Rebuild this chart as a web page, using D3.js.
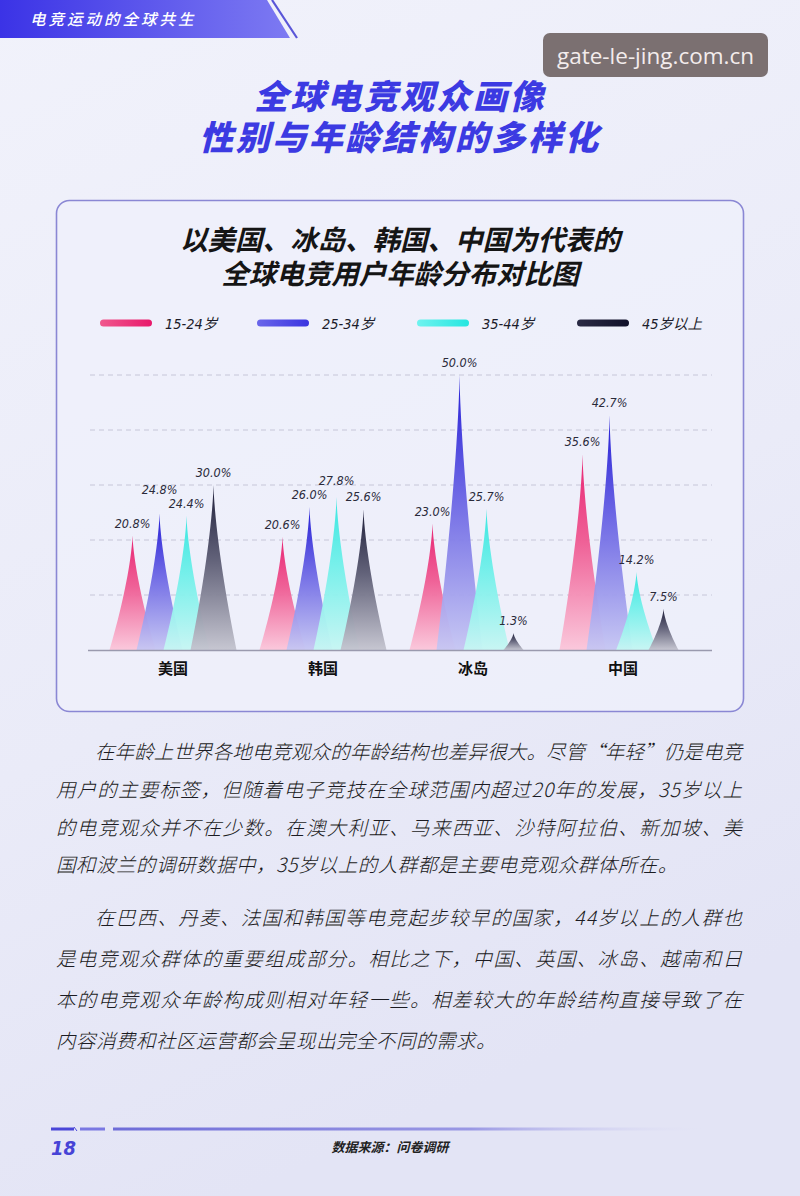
<!DOCTYPE html>
<html><head><meta charset="utf-8">
<script src="https://cdn.jsdelivr.net/npm/d3@7/dist/d3.min.js"></script>
<style>
html,body{margin:0;padding:0;background:#eceef9;}
svg{display:block;}
</style></head>
<body>
<svg id="c" width="800" height="1196"></svg>
<script>
// ---- data ----
const categories = ["美国", "韩国", "冰岛", "中国"];
const seriesNames = ["15-24岁", "25-34岁", "35-44岁", "45岁以上"];
const age15_24 = [20.8, 20.6, 23.0, 35.6];
const age25_34 = [24.8, 26.0, 50.0, 42.7];
const age35_44 = [24.4, 27.8, 25.7, 14.2];
const age45plus = [30.0, 25.6, 1.3, 7.5];
const yTicks = [10, 20, 30, 40, 50];
const seriesValues = [age15_24, age25_34, age35_44, age45plus];

const pageTag = "电竞运动的全球共生";
const titleLines = ["全球电竞观众画像", "性别与年龄结构的多样化"];
const chartTitleLines = ["以美国、冰岛、韩国、中国为代表的", "全球电竞用户年龄分布对比图"];
const para1 = [
  "在年龄上世界各地电竞观众的年龄结构也差异很大。尽管“年轻”仍是电竞",
  "用户的主要标签，但随着电子竞技在全球范围内超过20年的发展，35岁以上",
  "的电竞观众并不在少数。在澳大利亚、马来西亚、沙特阿拉伯、新加坡、美",
  "国和波兰的调研数据中，35岁以上的人群都是主要电竞观众群体所在。"
];
const para2 = [
  "在巴西、丹麦、法国和韩国等电竞起步较早的国家，44岁以上的人群也",
  "是电竞观众群体的重要组成部分。相比之下，中国、英国、冰岛、越南和日",
  "本的电竞观众年龄构成则相对年轻一些。相差较大的年龄结构直接导致了在",
  "内容消费和社区运营都会呈现出完全不同的需求。"
];
const pageNumber = "18";
const sourceText = "数据来源：问卷调研";
const watermark = "gate-le-jing.com.cn";

// ---- styles ----
const topColors = ["#e8196b", "#1a12d4", "#2fe6df", "#141430"];
const midColors = ["#ef5a92", "#6a64e4", "#72f0ea", "#5a5a72"];
const botColors = ["#fbc6da", "#c6c6f3", "#c6f6f3", "#c4c4cf"];
const legTop = ["#f0588d", "#6a66ea", "#6ff3ef", "#2a2a44"];
const legBot = ["#e8196b", "#3a34e0", "#25e6e0", "#10102a"];

const CJK = "'Noto Sans CJK SC','Noto Sans',sans-serif";
const NUM = "'DejaVu Sans Condensed','DejaVu Sans',sans-serif";
const svg = d3.select("#c");
const defs = svg.append("defs");

// background
const bg = defs.append("linearGradient").attr("id","bg").attr("x1",0).attr("y1",0).attr("x2",0.3).attr("y2",1);
bg.append("stop").attr("offset","0%").attr("stop-color","#f1f2fb");
bg.append("stop").attr("offset","60%").attr("stop-color","#eaebf8");
bg.append("stop").attr("offset","100%").attr("stop-color","#e3e4f5");
svg.append("rect").attr("width",800).attr("height",1196).attr("fill","url(#bg)");

// top banner
const bn = defs.append("linearGradient").attr("id","bn").attr("x1",0).attr("x2",1).attr("y1",0).attr("y2",0);
bn.append("stop").attr("offset","0%").attr("stop-color","#3b33e6");
bn.append("stop").attr("offset","100%").attr("stop-color","#7d7af2");
svg.append("path").attr("d","M0,0 L267,0 L290,38 L0,38 Z").attr("fill","url(#bn)");
svg.append("path").attr("d","M272,0 L297,38").attr("stroke","#5a56d8").attr("stroke-width",2.2);
svg.append("text").attr("x",30).attr("y",25).text(pageTag)
  .attr("font-family",CJK).attr("font-size",15.5).attr("font-weight",500).attr("font-style","italic")
  .attr("letter-spacing",3).attr("fill","#ffffff");

// watermark
svg.append("rect").attr("x",543).attr("y",33).attr("width",225).attr("height",44).attr("rx",7)
  .attr("fill","#6e6262").attr("opacity",0.9);
svg.append("text").attr("x",655.5).attr("y",64).attr("text-anchor","middle").text(watermark)
  .attr("font-family","'Open Sans','DejaVu Sans',sans-serif").attr("font-size",22.5).attr("fill","#f3ecec");

// main title
svg.selectAll("text.title").data(titleLines).enter().append("text").attr("class","title")
  .attr("x",400).attr("y",(d,i)=>109+i*41).attr("text-anchor","middle").text(d=>d)
  .attr("font-family",CJK).attr("font-size",34).attr("font-weight",900).attr("font-style","italic")
  .attr("fill","#3c3ae2").attr("letter-spacing",2.5);

// card
svg.append("rect").attr("x",56.5).attr("y",200.5).attr("width",687).attr("height",511).attr("rx",13)
  .attr("fill","#eff0fb").attr("fill-opacity",0.75).attr("stroke","#8a87d4").attr("stroke-width",1.6);
svg.selectAll("text.ctitle").data(chartTitleLines).enter().append("text").attr("class","ctitle")
  .attr("x",400).attr("y",(d,i)=>250+i*34).attr("text-anchor","middle").text(d=>d)
  .attr("font-family",CJK).attr("font-size",27.5).attr("font-weight",700).attr("font-style","italic")
  .attr("fill","#151515");

// legend
const legX = [100, 257, 417, 577];
seriesNames.forEach((s,i)=>{
  const g = defs.append("linearGradient").attr("id","lg"+i).attr("x1",0).attr("x2",1).attr("y1",0).attr("y2",0);
  g.append("stop").attr("offset","0%").attr("stop-color",legTop[i]);
  g.append("stop").attr("offset","100%").attr("stop-color",legBot[i]);
});
const leg = svg.append("g").selectAll("g").data(seriesNames).enter().append("g")
  .attr("transform",(d,i)=>`translate(${legX[i]},323)`);
leg.append("rect").attr("x",0).attr("y",-3.5).attr("width",52).attr("height",7).attr("rx",3.5)
  .attr("fill",(d,i)=>`url(#lg${i})`);
leg.append("text").attr("x",65).attr("y",5.5).text(d=>d)
  .attr("font-family","'DejaVu Sans Condensed','Noto Sans CJK SC',sans-serif").attr("font-size",14.5)
  .attr("font-style","italic").attr("fill","#1c1c2a");

// scales
const y = d3.scaleLinear().domain([0,50]).range([650,375]);
const x = d3.scaleBand().domain(categories).range([98,698]).padding(0);
const xs = d3.scalePoint().domain(seriesNames).range([-40.5,40.5]);

// grid
svg.append("g").selectAll("line").data(yTicks).enter().append("line")
  .attr("x1",90).attr("x2",712).attr("y1",d=>y(d)).attr("y2",d=>y(d))
  .attr("stroke","#c6c6d8").attr("stroke-width",1).attr("stroke-dasharray","5,4");

// spike gradients
seriesNames.forEach((s,i)=>{
  const g = defs.append("linearGradient").attr("id","sg"+i).attr("x1",0).attr("x2",0).attr("y1",0).attr("y2",1);
  g.append("stop").attr("offset","0%").attr("stop-color",topColors[i]);
  g.append("stop").attr("offset","45%").attr("stop-color",midColors[i]);
  g.append("stop").attr("offset","100%").attr("stop-color",botColors[i]);
});

const minH = 17;
function spikePath(cx, top, base, v){
  const h = Math.max(base - top, minH);
  const hw = Math.min(23, 9 + 0.8*v);
  const steps = d3.range(0, 1.0001, 0.05);
  const left = steps.map(f => [cx - hw*Math.pow(1-f, 1.45), base - f*h]);
  const right = steps.slice().reverse().map(f => [cx + hw*Math.pow(1-f, 1.45), base - f*h]);
  return d3.line()(left.concat(right)) + "Z";
}
const spikes = [];
seriesValues.forEach((vals,si)=>{
  vals.forEach((v,ci)=>spikes.push({s:si, ci:ci, c:categories[ci], v:v}));
});
const cxOf = d => x(d.c)+x.bandwidth()/2+xs(seriesNames[d.s]);
svg.append("g").selectAll("path").data(spikes).enter().append("path")
  .attr("d",d=>spikePath(cxOf(d), y(d.v), y(0), d.v))
  .attr("fill",d=>`url(#sg${d.s})`).attr("fill-opacity",0.95);

// value label positions: above the tip, nudged apart when neighbours collide
spikes.forEach(d=>{ d.ly = Math.min(y(d.v), y(0)-minH) - 8; });
categories.forEach(c=>{
  const grp = spikes.filter(d=>d.c===c).sort((a,b)=>a.s-b.s);
  for(let k=1;k<grp.length;k++){
    const a = grp[k-1], b = grp[k];
    if(Math.abs(a.ly-b.ly) < 14){
      if(a.v >= b.v) a.ly = b.ly - 14; else b.ly = a.ly - 14;
    }
  }
});
svg.append("g").selectAll("text").data(spikes).enter().append("text")
  .attr("x",d=>cxOf(d)).attr("y",d=>d.ly).attr("text-anchor","middle")
  .text(d=>d.v.toFixed(1)+"%")
  .attr("font-family",NUM).attr("font-size",12.5)
  .attr("font-style","italic").attr("fill","#2a2a3a");

// baseline
svg.append("line").attr("x1",88).attr("x2",712).attr("y1",y(0)+0.5).attr("y2",y(0)+0.5)
  .attr("stroke","#9a9aae").attr("stroke-width",1.5);

// x axis labels
svg.append("g").selectAll("text").data(categories).enter().append("text")
  .attr("x",d=>x(d)+x.bandwidth()/2).attr("y",674).attr("text-anchor","middle").text(d=>d)
  .attr("font-family",CJK).attr("font-size",15).attr("font-weight",700).attr("fill","#111");

// paragraphs
function para(lines, y0, gap){
  lines.forEach((t,i)=>{
    const full = i < lines.length-1;
    const x0 = i===0 ? 95 : 56;
    const el = svg.append("text").attr("x",x0).attr("y",y0+i*gap).text(t)
      .attr("font-family",CJK).attr("font-size",19.5).attr("font-weight",300)
      .attr("font-style","italic").attr("fill","#1b1b22");
    if(full){ el.attr("textLength",742-x0).attr("lengthAdjust","spacing"); }
    else { el.attr("letter-spacing",0.5); }
  });
}
para(para1, 759, 37.8);
para(para2, 925, 41);

// footer
const fg = defs.append("linearGradient").attr("id","fg").attr("x1",0).attr("x2",1).attr("y1",0).attr("y2",0);
fg.append("stop").attr("offset","0%").attr("stop-color","#6e6cd8");
fg.append("stop").attr("offset","60%").attr("stop-color","#9a98e4");
fg.append("stop").attr("offset","100%").attr("stop-color","#e4e4f6").attr("stop-opacity",0);
svg.append("rect").attr("x",51).attr("y",1127.5).attr("width",23).attr("height",3).attr("fill","#4a46d8");
svg.append("path").attr("d","M74,1127 L77,1131").attr("stroke","#4a46d8").attr("stroke-width",1);
svg.append("rect").attr("x",80).attr("y",1127.5).attr("width",25).attr("height",3).attr("fill","#7a78e2");
svg.append("rect").attr("x",113).attr("y",1127.5).attr("width",597).attr("height",3).attr("fill","url(#fg)");
svg.append("text").attr("x",51).attr("y",1155).text(pageNumber)
  .attr("font-family",NUM).attr("font-size",20)
  .attr("font-style","italic").attr("font-weight",700).attr("fill","#4743d6");
svg.append("text").attr("x",390).attr("y",1152).attr("text-anchor","middle").text(sourceText)
  .attr("font-family",CJK).attr("font-size",13).attr("font-weight",700).attr("font-style","italic")
  .attr("fill","#222");
</script>
</body></html>
